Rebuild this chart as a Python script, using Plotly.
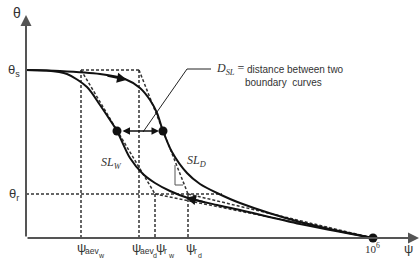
import plotly.graph_objects as go

# Schematic coordinates: x = position along psi axis, y = theta height (origin at axis corner)
theta_s = 168
theta_r = 44
psi_aev_w = 55
psi_aev_d = 113
psi_r_w = 129
psi_r_d = 162
psi_max = 347          # 10^6 position

drying_x = [0, 34, 74, 99, 114, 124, 131, 137, 146, 161, 174, 191, 214, 274, 347]
drying_y = [168, 167, 164, 159, 150, 138, 125, 107, 86, 65, 54, 45, 35, 16, 0]

wetting_x = [0, 19, 41, 61, 74, 84, 91, 104, 117, 129, 144, 162, 191, 214, 274, 347]
wetting_y = [168, 167.5, 164, 151, 133, 118, 107, 80, 64, 55, 47, 40, 33, 28, 14, 0]

inflection_x = [91, 137]
inflection_y = [107, 107]

tick_pos = [psi_aev_w, psi_aev_d, psi_r_w, psi_r_d]
tick_main = ["ψ", "ψ", "ψ", "ψ"]
tick_sub = ["aev", "aev", "r", "r"]
tick_subsub = ["w", "d", "w", "d"]

fig = go.Figure()

dash_col = "#333333"
dash_style = "3px,2px"

def seg(xs, ys, color=dash_col, width=1.5, dash=dash_style):
    fig.add_trace(go.Scatter(x=xs, y=ys, mode="lines",
                             line=dict(color=color, width=width, dash=dash),
                             hoverinfo="skip", showlegend=False))

# dashed construction lines
seg([psi_aev_w, psi_aev_d], [theta_s, theta_s])
seg([psi_aev_w, psi_aev_w], [theta_s, 0])
seg([psi_aev_d, psi_aev_d], [theta_s, 0])
seg([psi_aev_w, psi_r_w], [theta_s, theta_r])
seg([psi_aev_d, psi_r_d], [theta_s, theta_r])
seg([0, 196], [theta_r, theta_r])
seg([psi_r_w, psi_r_w], [theta_r, 0])
seg([psi_r_d, psi_r_d], [theta_r, 0])
seg([psi_r_w, psi_max], [theta_r, 0])
seg([psi_r_d, psi_max], [theta_r, 0])

# slope triangle
seg([149, 149, 157], [73, 53, 53], color="#555555", width=1, dash="solid")
# leader line
seg([117, 161, 185], [106, 169, 169], color="#222222", width=1, dash="solid")

# boundary curves
for xs, ys in [(drying_x, drying_y), (wetting_x, wetting_y)]:
    fig.add_trace(go.Scatter(x=xs, y=ys, mode="lines",
                             line=dict(color="#111111", width=2, shape="spline", smoothing=0.8),
                             hoverinfo="skip", showlegend=False))

# dots
fig.add_trace(go.Scatter(x=inflection_x + [psi_max], y=inflection_y + [0], mode="markers",
                         marker=dict(color="#111111", size=9),
                         hoverinfo="skip", showlegend=False))

ann = []
def arrow(x, y, ax, ay, width=2, color="#111111", side="end", size=1):
    ann.append(dict(x=x, y=y, ax=ax, ay=ay, xref="x", yref="y", axref="x", ayref="y",
                    showarrow=True, arrowhead=2, arrowsize=size, arrowwidth=width,
                    arrowcolor=color, arrowside=side, text=""))

# axes
arrow(0, 223, 0, 0, width=2, color="#555555", size=1.1)
arrow(393, 0, 0, 0, width=2, color="#555555", size=1.1)
# direction arrows
arrow(101, 158.3, 80, 162.5, width=2)
arrow(160, 40.2, 180, 35.5, width=2)
# D_SL double arrow
ann.append(dict(x=inflection_x[1] - 4, y=107, ax=inflection_x[0] + 4, ay=107,
                xref="x", yref="y", axref="x", ayref="y", showarrow=True,
                arrowhead=2, startarrowhead=2, arrowside="end+start", arrowsize=1,
                startarrowsize=1, arrowwidth=1.5, arrowcolor="#111111", text=""))

sans = "Liberation Sans, Arial, sans-serif"
serif = "Liberation Serif, Times New Roman, serif"
txtc = "#333333"

def label(x, y, text, size=11, family=sans, xanchor="center"):
    ann.append(dict(x=x, y=y, xref="x", yref="y", text=text, showarrow=False,
                    font=dict(family=family, size=size, color=txtc), xanchor=xanchor,
                    yanchor="middle", borderpad=0))

label(-9, 225, "θ", size=14)
label(-12, theta_s, "θ<sub>s</sub>", size=13)
label(-12, theta_r, "θ<sub>r</sub>", size=13)

# psi tick labels built from main symbol + subscript + sub-subscript
lead = [-4, -7, 1, -2]
for p, off, m, s1, s2 in zip(tick_pos, lead, tick_main, tick_sub, tick_subsub):
    x0 = p + off
    label(x0 - 1, -9, m, size=13, xanchor="left")
    label(x0 + 7, -13, s1, size=8.5, xanchor="left")
    w1 = 13 if len(s1) > 1 else 3.5
    label(x0 + 7 + w1, -17, s2, size=7, xanchor="left")

label(psi_max - 1, -10, "10<sup>6</sup>", size=11, family=serif)
label(382, -10, "ψ", size=13)
label(189, 169, "<i>D<sub>SL</sub></i> =", size=12, family=serif, xanchor="left")
label(220, 169, "distance between two", size=10, xanchor="left")
label(218, 156, "boundary  curves", size=10, xanchor="left")
label(85, 75, "<i>SL<sub>W</sub></i>", size=12, family=serif)
label(170, 77, "<i>SL<sub>D</sub></i>", size=12, family=serif)

fig.update_layout(
    width=420, height=259, margin=dict(l=0, r=0, t=0, b=0),
    paper_bgcolor="white", plot_bgcolor="white",
    xaxis=dict(range=[-26, 394], visible=False, fixedrange=True),
    yaxis=dict(range=[-21, 238], visible=False, fixedrange=True),
    annotations=ann, showlegend=False,
)

fig.write_html("out.html", config={"displayModeBar": False},
               post_script="document.body.style.margin='0';document.body.style.overflow='hidden';")
